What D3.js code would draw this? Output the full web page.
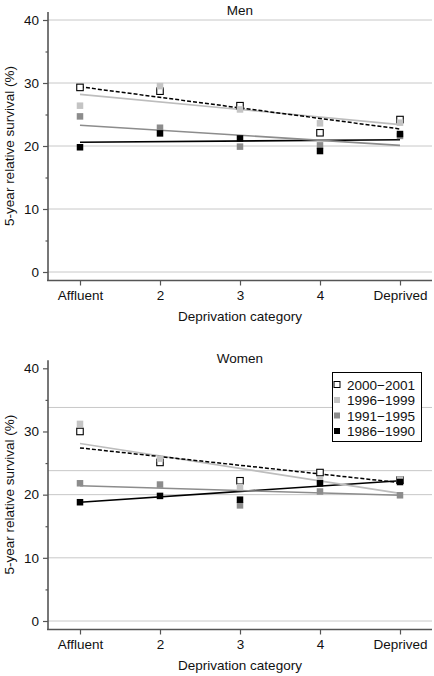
<!DOCTYPE html>
<html>
<head>
<meta charset="utf-8">
<script src="https://cdn.jsdelivr.net/npm/d3@7"></script>
<style>
  body { margin: 0; background: #fff; }
  svg { display: block; font-family: "Liberation Sans", Arial, Helvetica, sans-serif; }
</style>
</head>
<body>
<svg id="chart" width="434" height="676"></svg>
<script>
// ---- data ----
const categories = ["Affluent", "2", "3", "4", "Deprived"];
const periods = ["2000\u22122001", "1996\u22121999", "1991\u22121995", "1986\u22121990"];
const yTicks = [0, 10, 20, 30, 40];
const yMinorTicks = [5, 15, 25, 35];

// Men: survival (%) by deprivation category
const men2000 = [29.3, 28.7, 26.4, 22.1, 24.2];
const men1996 = [26.4, 29.5, 25.8, 23.6, 23.7];
const men1991 = [24.7, 22.9, 19.9, 20.1, 21.6];
const men1986 = [19.8, 22.0, 21.2, 19.2, 21.9];
// Men: fitted trend lines [Affluent, Deprived]
const menTrend2000 = [29.4, 22.7];
const menTrend1996 = [28.2, 23.4];
const menTrend1991 = [23.3, 20.1];
const menTrend1986 = [20.6, 21.0];

// Women
const women2000 = [30.0, 25.1, 22.2, 23.5, 22.3];
const women1996 = [31.2, 25.7, 21.2, 22.3, 22.4];
const women1991 = [21.8, 21.6, 18.3, 20.5, 19.9];
const women1986 = [18.8, 19.8, 19.2, 21.8, 22.0];
const womenTrend2000 = [27.4, 21.9];
const womenTrend1996 = [28.1, 20.2];
const womenTrend1991 = [21.4, 19.9];
const womenTrend1986 = [18.8, 22.2];

// gridlines as drawn in each panel
const menGrid = [0, 10, 20, 30, 40];
const womenGrid = [0, 10, 20, 23.8, 33.8];

// ---- styles ----
const styles = [
  { fill: "#ffffff", stroke: "#000", line: "#000", dash: "4,2" },
  { fill: "#c4c4c4", stroke: "none", line: "#bdbdbd", dash: null },
  { fill: "#8c8c8c", stroke: "none", line: "#8c8c8c", dash: null },
  { fill: "#000000", stroke: "none", line: "#000", dash: null }
];

const svg = d3.select("#chart");
const x = d3.scalePoint().domain(categories).range([80, 400]);

function panel(cfg) {
  const g = svg.append("g");
  const y = d3.scaleLinear().domain([0, 40]).range([cfg.y0, cfg.y40]);
  const left = 48, right = 432;
  const top = cfg.y40 - 8, bottom = cfg.y0 + 8.5;

  // gridlines
  g.selectAll(".grid").data(cfg.grid).enter().append("line")
    .attr("x1", left).attr("x2", right)
    .attr("y1", d => y(d)).attr("y2", d => y(d))
    .attr("stroke", "#c8c8c8").attr("stroke-width", 1);

  // y axis
  const ya = g.append("g").attr("transform", `translate(${left},0)`)
    .call(d3.axisLeft(y).tickValues(yTicks).tickSize(5).tickSizeOuter(0).tickPadding(4));
  ya.select(".domain").remove();
  ya.selectAll(".tick line").attr("stroke", "#555").attr("stroke-width", 1.2);
  ya.selectAll(".tick text").attr("font-size", 13.5).attr("fill", "#111")
    .attr("font-family", "Liberation Sans, Arial, sans-serif");
  const ym = g.append("g").attr("transform", `translate(${left},0)`)
    .call(d3.axisLeft(y).tickValues(yMinorTicks).tickSize(2.5).tickFormat(""));
  ym.select(".domain").remove();
  ym.selectAll(".tick line").attr("stroke", "#555").attr("stroke-width", 1.2);
  g.append("line").attr("x1", left).attr("x2", left).attr("y1", top).attr("y2", bottom)
    .attr("stroke", "#555").attr("stroke-width", 1.6);

  // x axis
  const xa = g.append("g").attr("transform", `translate(0,${bottom})`)
    .call(d3.axisBottom(x).tickSize(5).tickSizeOuter(0).tickPadding(5));
  xa.select(".domain").remove();
  xa.selectAll(".tick line").attr("stroke", "#555").attr("stroke-width", 1.2);
  xa.selectAll(".tick text").attr("font-size", 13.5).attr("fill", "#111")
    .attr("font-family", "Liberation Sans, Arial, sans-serif");
  g.append("line").attr("x1", left - 1).attr("x2", right).attr("y1", bottom).attr("y2", bottom)
    .attr("stroke", "#555").attr("stroke-width", 1.6);

  // titles
  g.append("text").attr("x", 240).attr("y", cfg.titleY).attr("text-anchor", "middle")
    .attr("font-size", 13.5).attr("fill", "#111").text(cfg.title);
  g.append("text").attr("x", 240).attr("y", cfg.xTitleY).attr("text-anchor", "middle")
    .attr("font-size", 13.5).attr("fill", "#111").text("Deprivation category");
  g.append("text")
    .attr("transform", `translate(14,${(cfg.y0 + cfg.y40) / 2}) rotate(-90)`)
    .attr("text-anchor", "middle").attr("font-size", 13.5).attr("fill", "#111")
    .text("5-year relative survival (%)");

  // trend lines (back to front: black, mid, light, dashed)
  [3, 2, 1, 0].forEach(i => {
    const t = cfg.trends[i];
    const s = styles[i];
    g.append("line")
      .attr("x1", x(categories[0])).attr("x2", x(categories[categories.length - 1]))
      .attr("y1", y(t[0])).attr("y2", y(t[1]))
      .attr("stroke", s.line).attr("stroke-width", i === 0 ? 1.5 : 1.6)
      .attr("stroke-dasharray", s.dash);
  });

  // points (open squares first, black on top)
  const sz = 6.5;
  [0, 1, 2, 3].forEach(i => {
    const s = styles[i];
    g.selectAll(null).data(cfg.series[i]).enter().append("rect")
      .attr("x", (d, j) => x(categories[j]) - sz / 2)
      .attr("y", d => y(d) - sz / 2)
      .attr("width", sz).attr("height", sz)
      .attr("fill", s.fill)
      .attr("stroke", s.stroke === "none" ? null : s.stroke)
      .attr("stroke-width", 1.1);
  });
  return { g, y };
}

panel({
  title: "Men", titleY: 15, xTitleY: 321,
  y0: 272, y40: 20,
  grid: menGrid,
  series: [men2000, men1996, men1991, men1986],
  trends: [menTrend2000, menTrend1996, menTrend1991, menTrend1986]
});

panel({
  title: "Women", titleY: 363, xTitleY: 670,
  y0: 621, y40: 368.3,
  grid: womenGrid,
  series: [women2000, women1996, women1991, women1986],
  trends: [womenTrend2000, womenTrend1996, womenTrend1991, womenTrend1986]
});

// legend
const lg = svg.append("g");
lg.append("rect").attr("x", 332.5).attr("y", 372.5).attr("width", 89).attr("height", 69)
  .attr("fill", "#fff").attr("stroke", "#000").attr("stroke-width", 1);
periods.forEach((p, i) => {
  const cy = 384.5 + i * 15.5;
  const s = styles[i];
  lg.append("rect").attr("x", 334).attr("y", cy - 3).attr("width", 6).attr("height", 6)
    .attr("fill", s.fill).attr("stroke", s.stroke === "none" ? null : s.stroke).attr("stroke-width", 1);
  lg.append("text").attr("x", 347).attr("y", cy + 5).attr("font-size", 13.5).attr("fill", "#111")
    .text(p);
});
</script>
</body>
</html>
